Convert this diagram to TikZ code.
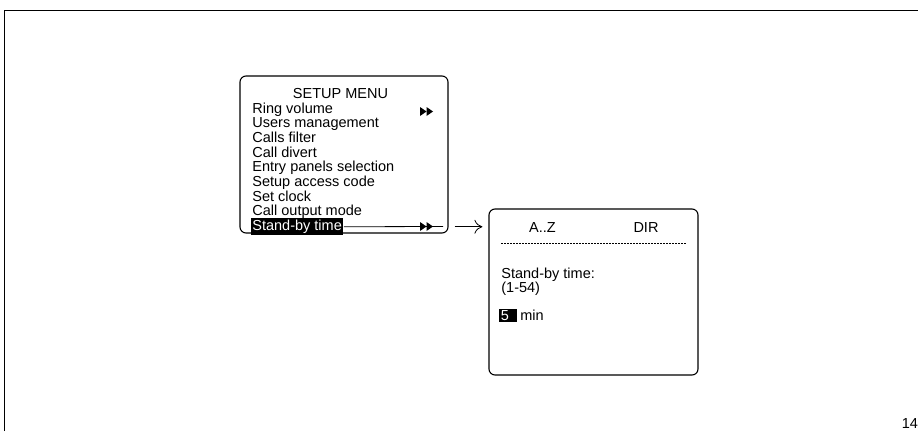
\documentclass[tikz,border=0pt]{standalone}
\usepackage{fontspec}
\setmainfont{Liberation Sans}
\usetikzlibrary{arrows.meta}
\tikzstyle{screen}=[draw, rounded corners=6pt, line width=1.1pt, inner sep=0pt]
\tikzstyle{item}=[anchor=base west, inner sep=0pt, font=\fontsize{14.5}{14.5}\selectfont]
\tikzstyle{hl}=[item, fill=black, text=white, inner sep=1.5pt]
\tikzset{ffwd/.pic={
    \fill (0,-4.5) -- (6.5,0) -- (0,4.5) -- cycle;
    \fill (6.5,-4.5) -- (13,0) -- (6.5,4.5) -- cycle;
}}

\begin{document}
\begin{tikzpicture}[x=1pt, y=-1pt, line width=0.8pt]
\useasboundingbox (0,0) rectangle (918,431);
% Page frame
    \draw[line width=1.3pt] (4.5,431) -- (4.5,10.5) -- (918,10.5);
    \node[item] (page) at (901.5,428) {14};
% Setup menu
    \node[screen, minimum width=208pt, minimum height=157pt] (menu) at (344,154.5) {};
    \node[item, anchor=base] (title) at (340.5,98) {SETUP MENU};
    \node[item] (ring) at (252,113) {Ring volume};
    \node[item] (users) at (252,127.6) {Users management};
    \node[item] (filter) at (252,142.3) {Calls filter};
    \node[item] (divert) at (252,157) {Call divert};
    \node[item] (panels) at (252,171.6) {Entry panels selection};
    \node[item] (code) at (252,186.3) {Setup access code};
    \node[item] (clock) at (252,201) {Set clock};
    \node[item] (output) at (252,215.6) {Call output mode};
    \node[hl] (sel) at (250.5,230.5) {Stand-by time};
    \pic at (420,111.5) {ffwd};
    \coordinate (selend) at (443,226.5);
    \draw (sel.east) -- (selend);
    \pic at (420,226.5) {ffwd};
% Stand-by time screen
    \node[screen, minimum width=209pt, minimum height=166pt] (panel) at (593.5,292) {};
    \node[item, anchor=base] (az) at (542.5,232) {A..Z};
    \node[item, anchor=base] (dir) at (646,232) {DIR};
    \draw[dash pattern=on 2pt off 1pt, line width=0.6pt] (501,243) -- (686,243);
    \node[item] (prompt) at (501,278) {Stand-by time:};
    \node[item] (range) at (501,292) {(1-54)};
    \node[hl] (val) at (499,320) {\makebox[15pt][l]{5}};
    \node[item] (unit) at (520,320) {min};
% Link
    \draw[-{To[length=8pt,width=14pt]}, shorten <=6pt, shorten >=6pt] (menu.east |- sel.east) -- (panel.west |- sel.east);
\end{tikzpicture}
\end{document}
